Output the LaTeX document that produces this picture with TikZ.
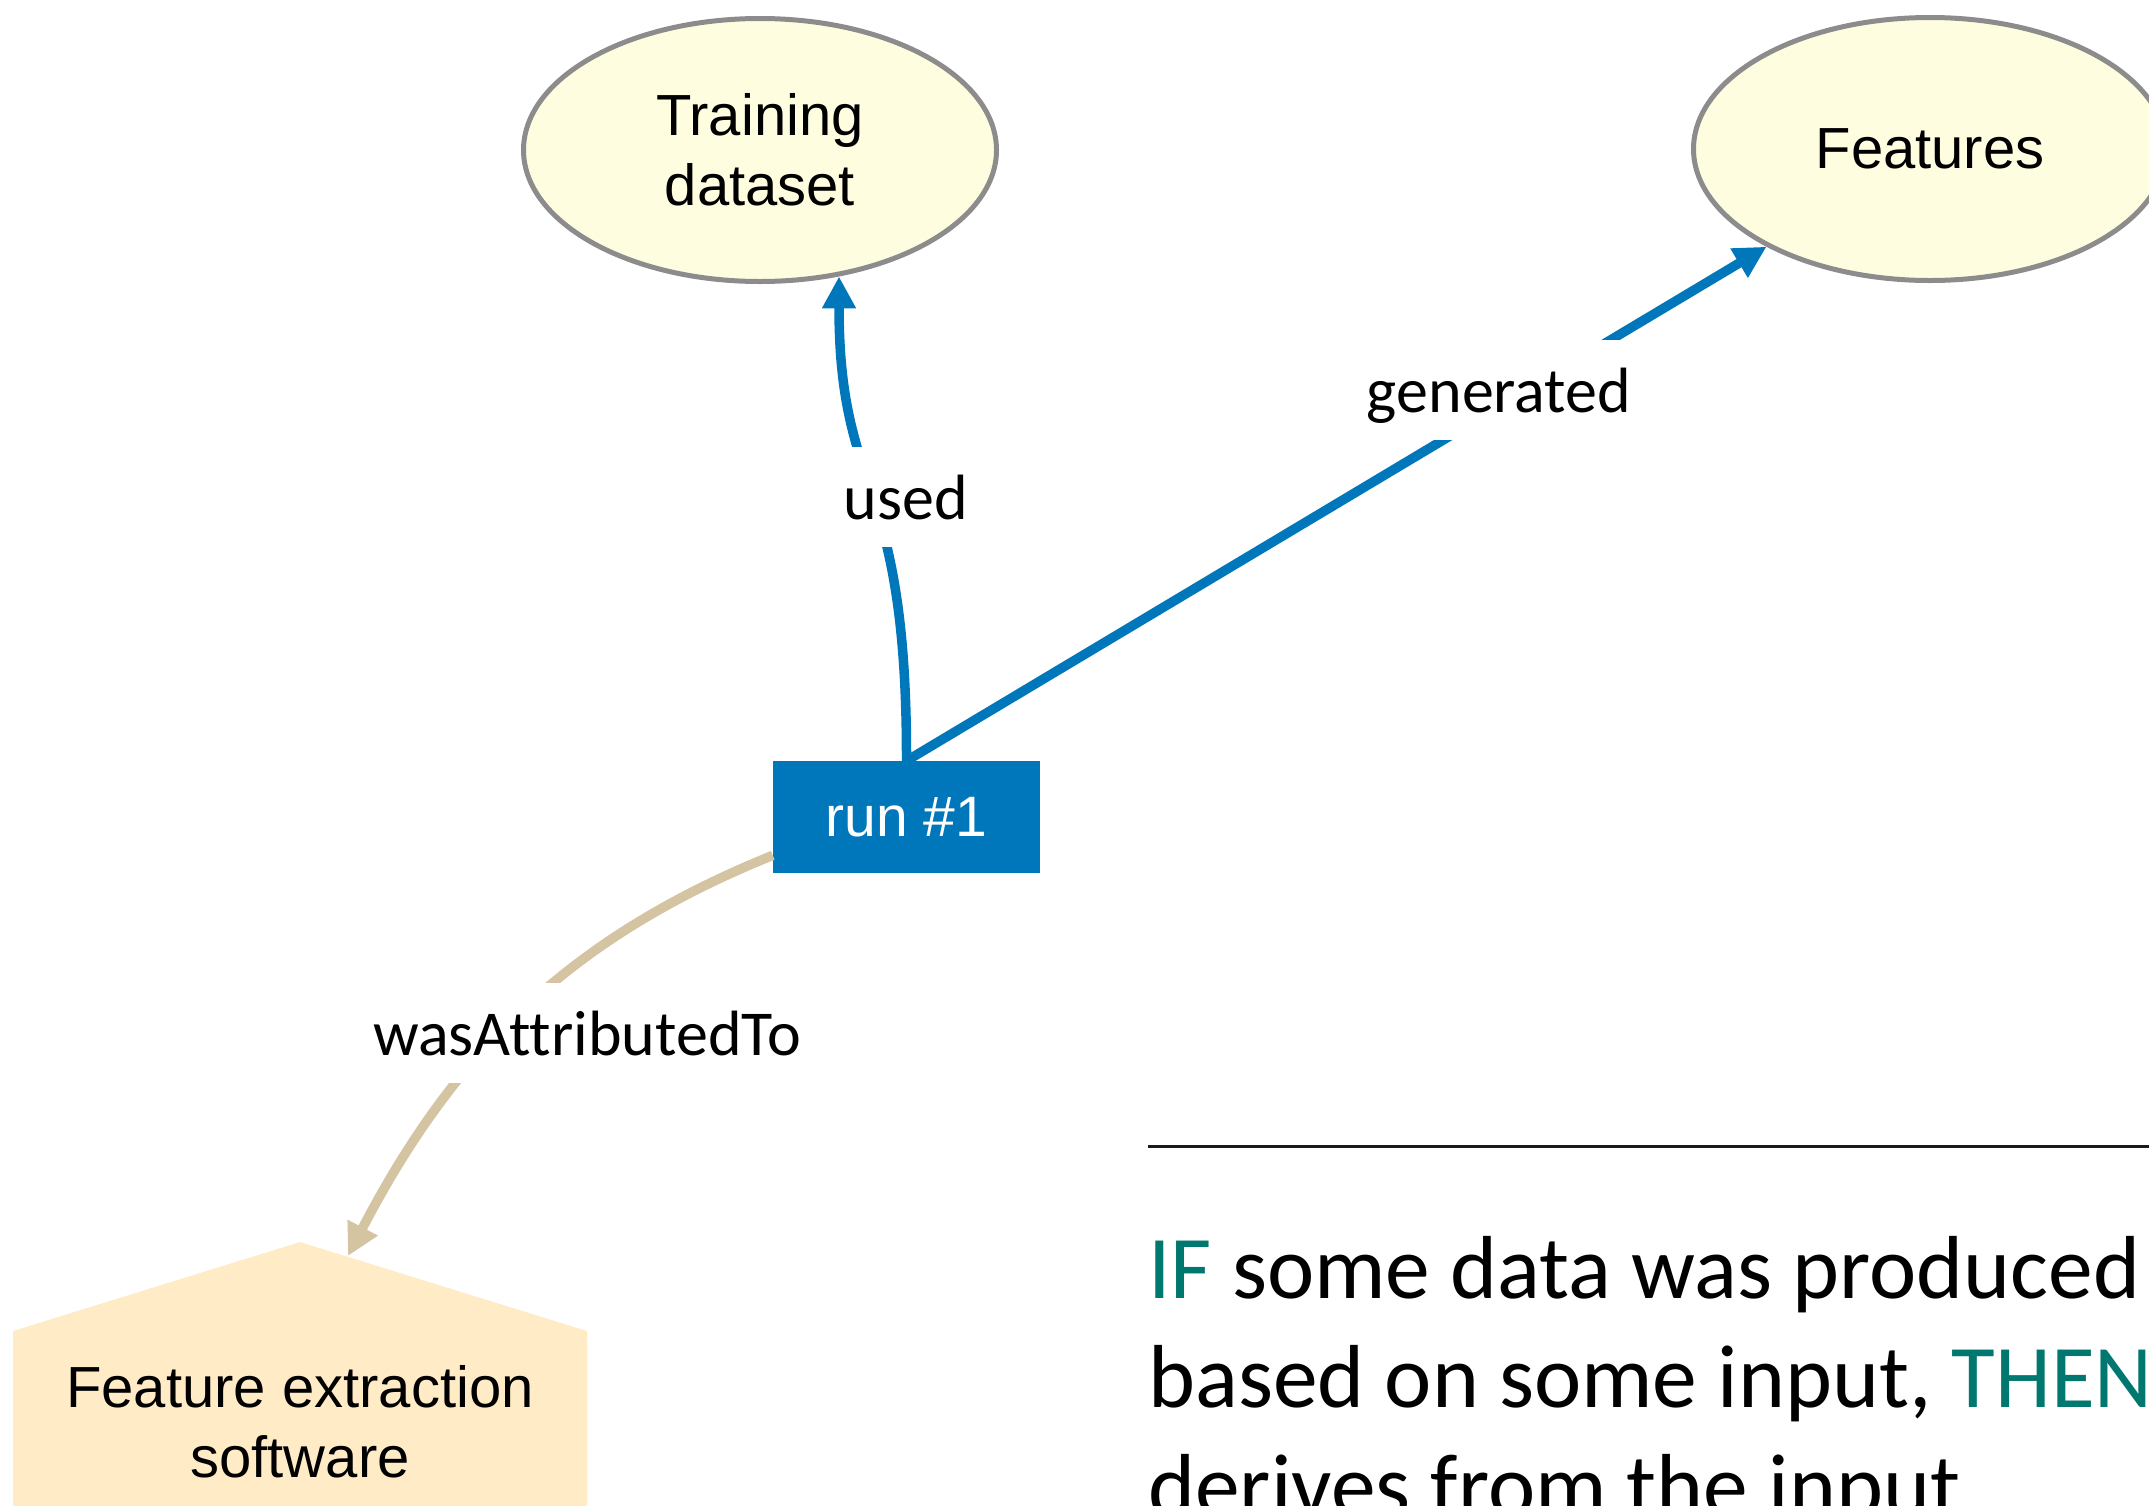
\documentclass[tikz,border=0pt]{standalone}
\usepackage{fontspec}
\setmainfont{Liberation Sans}
\newfontfamily\edgefont[Ligatures=NoCommon]{Carlito}
\usetikzlibrary{shapes.geometric,arrows.meta}
\definecolor{runblue}{HTML}{0077BB}
\definecolor{entityfill}{HTML}{FFFDE0}
\definecolor{entityline}{HTML}{8C8C8C}
\definecolor{agentfill}{HTML}{FFEBC6}
\definecolor{attribtan}{HTML}{D4C4A1}
\definecolor{ruleteal}{HTML}{00786F}
\definecolor{ruleline}{HTML}{1A1A1A}

\begin{document}
\begin{tikzpicture}[x=1pt,y=-1pt,
  entity/.style={ellipse, draw=entityline, line width=5pt, fill=entityfill,
    inner sep=0pt, minimum width=473pt, minimum height=263pt, align=center,
    font=\fontsize{58}{70}\selectfont},
  activity/.style={rectangle, fill=runblue, text=white, inner sep=0pt,
    minimum width=267pt, minimum height=112pt, font=\fontsize{57}{68}\selectfont},
  agenttext/.style={align=center, inner sep=0pt, font=\fontsize{58}{70}\selectfont},
  rel/.style={line width=9.5pt, -{Triangle[length=32pt,width=32pt]}},
  edgelabel/.style={fill=white, inner xsep=6pt, inner ysep=16pt,
    text height=56pt, text depth=12pt, font=\edgefont\fontsize{64}{76}\selectfont},
  ruletext/.style={anchor=base west, inner sep=0pt,
    font=\edgefont\fontsize{89.5}{107}\selectfont},
]
\useasboundingbox (0,0) rectangle (2149,1505);
\clip (0,0) rectangle (2149,1505);

% entities, activity and agent
\node[entity] (tr) at (760,150) {Training\\dataset};
\node[entity] (ft) at (1930,149) {Features};
\node[activity] (run) at (906.5,817) {run \#1};

\fill[agentfill] (13,1331) -- (300,1242) -- (587,1331) -- (587,1520) -- (13,1520) -- cycle;
\node[agenttext] (agent) at (300,1422) {Feature extraction\\software};
\coordinate (agenthit) at (348,1256);

% relations
\draw[rel, runblue] (run.north) .. controls (907,470) and (839,500) .. (tr.-58);
\draw[rel, runblue] (run.north) -- (ft);
\draw[rel, attribtan] (run.196) .. controls (568,938) and (453,1054) .. (agenthit);

% relation labels
\node[edgelabel] (lused) at (906,497) {used};
\node[edgelabel] (lgen) at (1499,390) {generated};
\node[edgelabel] (lattr) at (587,1033) {wasAttributedTo};

% inference rule
\coordinate (ruleA) at (1148,1146);
\coordinate (ruleB) at (2160,1146);
\draw[ruleline, line width=3pt] (ruleA) -- (ruleB);
\node[ruletext] (rule1) at (1148,1298) {\textcolor{ruleteal}{IF} some data was produced};
\node[ruletext] (rule2) at (1148,1407) {based on some input, \textcolor{ruleteal}{THEN}};
\node[ruletext] (rule3) at (1148,1516) {derives from the input};
\end{tikzpicture}
\end{document}
